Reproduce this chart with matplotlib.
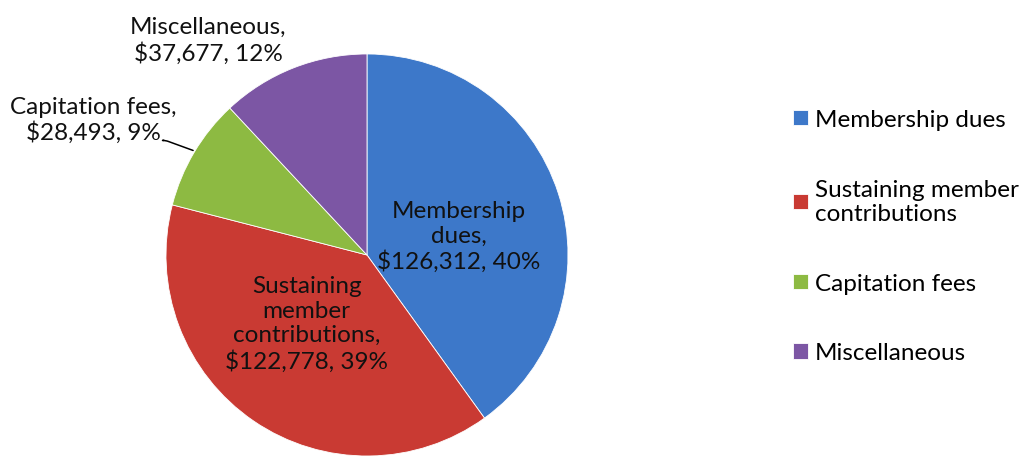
import matplotlib
matplotlib.use("Agg")
import matplotlib.pyplot as plt

categories = ["Membership dues", "Sustaining member contributions", "Capitation fees", "Miscellaneous"]
legend_labels = ["Membership dues", "Sustaining member\ncontributions", "Capitation fees", "Miscellaneous"]
values = [126312, 122778, 28493, 37677]
percents = [40, 39, 9, 12]
colors = ["#3D78C9", "#C93A33", "#8DBA42", "#7C56A4"]

plt.rcParams['font.family'] = ['Lato', 'DejaVu Sans']

fig = plt.figure(figsize=(10.29, 4.6), dpi=100)
ax = fig.add_axes([0.1613, 0.0065, 0.3907, 0.874])
wedges, _ = ax.pie(values, colors=colors, startangle=90, counterclock=False,
                   radius=1.0, wedgeprops=dict(edgecolor="white", linewidth=0.6))
ax.set_xlim(-1, 1)
ax.set_ylim(-1, 1)
ax.set_aspect('equal')
ax.axis('off')

fs = 17.5
ls = 1.2
tc = '#111111'
ax.text(0.455, 0.095, f"Membership\ndues,\n${values[0]:,}, {percents[0]}%",
        ha='center', va='center', fontsize=fs, color=tc, linespacing=ls)
ax.text(-0.30, -0.34, f"Sustaining\nmember\ncontributions,\n${values[1]:,}, {percents[1]}%",
        ha='center', va='center', fontsize=fs, color=tc, linespacing=ls)
ax.text(-0.79, 1.07, f"Miscellaneous,\n${values[3]:,}, {percents[3]}%",
        ha='center', va='center', fontsize=fs, color=tc, linespacing=ls, clip_on=False)
ax.text(-1.36, 0.675, f"Capitation fees,\n${values[2]:,}, {percents[2]}%",
        ha='center', va='center', fontsize=fs, color=tc, linespacing=ls, clip_on=False)
ax.annotate("", xy=(-0.865, 0.52), xytext=(-1.01, 0.57),
            arrowprops=dict(arrowstyle='-', color='black', lw=1.1,
                            connectionstyle="angle,angleA=0,angleB=-20,rad=3",
                            shrinkA=0, shrinkB=0),
            annotation_clip=False)

leg = fig.legend(wedges, legend_labels, loc='center left', bbox_to_anchor=(0.771, 0.484),
                 frameon=False, fontsize=17.5, handlelength=0.6, handleheight=0.6,
                 handletextpad=0.3, labelspacing=2.0, borderpad=0, borderaxespad=0)
fig.savefig("out.png", dpi=100, facecolor='white')
